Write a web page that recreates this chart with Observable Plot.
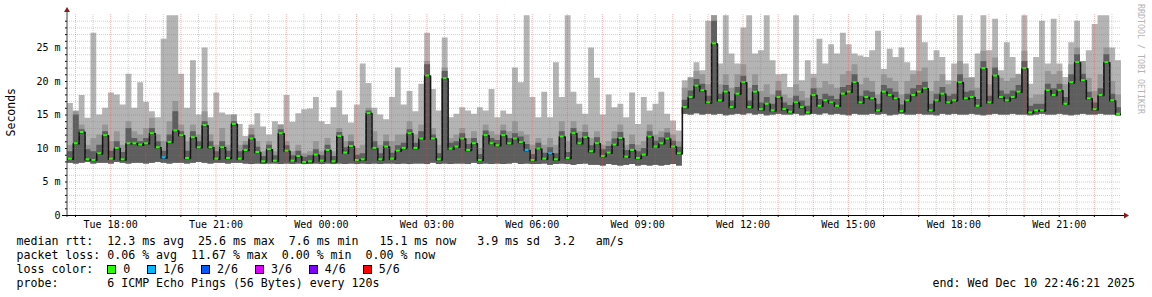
<!DOCTYPE html>
<html><head><meta charset="utf-8">
<script src="https://cdn.jsdelivr.net/npm/d3@7"></script>
<script src="https://cdn.jsdelivr.net/npm/@observablehq/plot@0.6"></script>
<style>
body{margin:0;background:#fff;}
#wrap{position:relative;width:1152px;height:297px;overflow:hidden;background:#fff;font-family:"DejaVu Sans Mono",monospace;}
#chart{position:absolute;left:0;top:0;}
#ylab{position:absolute;left:4px;top:88px;writing-mode:vertical-rl;transform:rotate(180deg);font-size:11.5px;color:#000;}
#credit{position:absolute;left:1136px;top:4px;writing-mode:vertical-rl;font-size:8.3px;color:#b4b4b4;}
.leg{position:absolute;left:16.5px;font-size:11.6px;white-space:pre;color:#000;line-height:14px;}
.box{display:inline-block;width:7px;height:7px;border:1px solid #000;vertical-align:-1px;}
#end{position:absolute;right:17px;top:276px;font-size:11.6px;white-space:pre;line-height:14px;}
</style></head><body>
<div id="wrap">
<div id="chart"></div>
<div id="ylab">Seconds</div>
<div id="credit">RRDTOOL / TOBI OETIKER</div>
<div class="leg" id="l1" style="top:234px"></div>
<div class="leg" id="l2" style="top:248px"></div>
<div class="leg" id="l3" style="top:262px"></div>
<div class="leg" id="l4" style="top:276px"></div>
<div id="end"></div>
</div>
<script>
// time: hours since Tue 00:00; one sample every 10 minutes
const startHour = 16 + 46/60 + 21/3600;
const stepHours = 1/6;

const loPing = [
7.8,7.7,7.8,7.9,7.7,7.8,7.8,7.7,7.9,7.8, 7.7,7.8,7.8,7.7,7.8,7.9,7.8,7.7,7.8,7.8, 7.7,7.8,7.9,7.8,7.7,7.8,7.8,7.7,7.8,7.8,
7.7,7.6,7.7,7.6,7.7,7.7,7.6,7.7,7.6,7.7, 7.6,7.6,7.7,7.6,7.7,7.6,7.7,7.6,7.7,7.6, 7.7,7.6,7.7,7.6,7.7,7.7,7.6,7.7,7.6,7.7,
7.7,7.6,7.8,7.6,7.7,7.6,7.7,7.7,7.6,7.8, 7.6,7.7,7.6,7.7,7.6,7.7,7.8,7.6,7.7,7.6, 7.6,7.7,7.5,7.6,7.7,7.6,7.5,7.6,7.7,7.5,
7.5,7.4,7.6,7.5,7.4,7.5,7.6,7.4,7.5,7.4, 7.5,7.4,7.5,7.6,7.4,15.1,15.0,15.2,15.0,15.1, 15.0,15.1,14.9,15.0,15.1,15.0,15.2,15.0,15.1,14.9,
15.0,15.1,15.0,15.0,15.1,14.9,15.0,15.1,15.0,15.2, 15.0,15.1,15.0,14.9,15.1,15.0,15.0,15.1,15.0,15.1, 14.9,15.0,15.1,15.0,15.0,15.1,15.0,15.0,14.9,15.1,
15.0,15.1,15.0,15.0,15.1,15.0,14.9,15.0,15.1,15.0, 15.0,15.1,15.0,15.0,14.9,15.0,15.1,15.0,15.0,15.1, 15.0,14.9,15.0,15.1,15.0,15.0,15.1,15.0,15.0,14.9
];
const medPing = [
8.4,10.7,12.4,8.3,8.2,9.2,11.9,8.4,10.0,8.3, 10.7,10.7,10.5,10.7,12.2,10.1,8.6,10.9,12.6,11.9, 8.5,11.6,10.1,13.4,10.1,8.4,10.1,8.5,13.6,8.4,
9.7,11.4,9.4,8.0,9.8,8.1,12.2,9.6,8.1,8.8, 7.9,8.0,9.0,8.1,9.7,8.0,11.8,9.3,10.3,8.2, 8.3,15.2,10.0,8.3,10.2,8.4,9.6,10.0,12.2,10.0,
11.4,20.8,11.4,8.3,20.4,9.9,10.2,11.4,9.7,10.7, 8.2,11.9,10.7,10.4,11.9,10.7,11.4,10.9,9.7,8.2, 9.9,8.4,9.2,8.3,11.7,8.5,12.2,10.7,11.6,9.5,
10.7,8.8,9.3,10.5,11.5,8.7,9.7,8.5,9.0,11.7, 10.2,10.7,11.4,10.2,9.2,16.1,17.6,19.3,18.6,16.8, 25.6,17.1,18.4,16.1,18.1,19.8,16.1,18.4,15.8,16.6,
15.6,17.6,15.8,15.4,16.8,16.1,15.3,17.9,16.3,17.1, 16.8,16.3,18.1,18.4,19.8,16.8,17.6,17.4,15.6,18.4, 17.9,17.4,15.5,17.1,17.9,18.4,18.9,15.6,17.1,18.1,
16.8,17.1,19.8,17.4,17.6,16.3,21.9,16.8,20.8,17.6, 17.1,17.6,18.4,21.9,15.3,15.6,15.6,18.6,17.9,18.6, 16.6,19.8,22.8,20.1,17.4,15.8,17.9,22.8,17.1,15.1
];
// upper edge of the darkest smoke layer
const q3Ping = [
9.5,15,12.8,9.8,9.5,10.5,12.5,9.6,11,9.4, 13,11.5,11,11.5,13,11,9.6,12,15.5,12.5, 9.6,12.5,11,14,11,9.5,11,9.6,14,9.5,
10.5,12,10.2,8.8,10.5,8.9,12.8,10.4,8.9,9.6, 8.7,8.9,9.8,8.9,10.5,8.8,12.4,10.1,11,9, 9.2,15.6,11,9.2,11,9.3,10.4,10.8,12.8,10.8,
12.5,22.5,12,9.2,21.5,10.8,11,12.2,10.6,11.5, 9.1,12.6,11.5,11.2,12.6,11.5,12.2,11.7,10.6,9.1, 10.8,9.3,10.1,9.2,12.5,9.4,13,11.5,12.4,10.4,
11.6,9.8,10.3,11.4,12.4,9.7,10.6,9.5,10,12.5, 11.1,11.6,12.3,11.1,10.2,17.2,18.6,20.3,19.6,17.8, 29,18.1,19.4,17.1,19.1,20.8,17.1,19.4,16.8,17.6,
16.6,18.6,16.8,16.4,17.8,17.1,16.3,18.9,17.3,18.1, 17.8,17.3,19.1,19.4,21,17.8,18.6,18.4,16.6,19.4, 18.9,18.4,16.5,18.1,18.9,19.4,19.9,16.6,18.1,19.1,
17.8,18.1,21,18.4,18.6,17.3,23,17.8,22,18.6, 18.1,18.6,19.4,23,16.3,16.6,16.6,19.6,18.9,19.6, 17.6,21,24,21.1,18.4,16.8,18.9,24,18.1,16.1
];
// upper edge of the middle smoke layer
const q4Ping = [
10.5,15.5,13.5,10.5,11.5,12,13.5,11,12.5,10.5, 14,12.5,12,13,14.5,12,11,14,17,13.5, 11,13.5,12,15.5,12,10.5,13,10.5,15,10.5,
11,13,11,9.5,11,9.5,13.5,11,9.5,10.5, 9.2,9.5,11,9.5,11.5,9.5,13,11,12,10, 10.5,16,12.5,10.5,12,11,12,12,14,12,
13.5,23,13,10.5,22,11.5,12,13,11.5,12.5, 10,13.5,12.5,12,13.5,12.5,14,12.5,12,10.5, 11.5,10.5,11.5,10.5,14,11,14,12.5,13.5,11.5,
12.5,10.5,11,12.5,13.5,10.5,12,10.5,11,13.5, 12,12.5,13,12,11,19,20.5,21.5,21,19.5, 29.8,19.5,21,19,21,22.5,19,21,18.5,19.5,
18,20,18,17.5,19.5,18.5,17.5,20.5,19,20, 19.5,19,21,21.5,22.5,19.5,20.5,20,18,21, 20.5,20,18,20,21,21.5,22,18.5,20,21,
19.5,20,23,20.5,20.5,19,24.5,19.5,23.5,20.5, 20,20.5,21,24.5,17.5,18,18,21.5,21,21.5, 19.5,22.5,25,23,20.5,18.5,21,25,20,18
];
const hiPing = [
16.7,15.6,17.9,14.5,27.2,15,16,18.3,18,16.5, 21.1,16,19.8,16.9,15.5,14.6,26.3,29.8,29.8,21.1, 16,23.1,15,25,14.6,18.3,15.3,15,15,13.6,
11.8,13.5,15.2,13.2,12,14,13.5,17.9,13.9,15.2, 15.8,15.9,17.6,14,13.6,16.1,18.6,15,13.8,16.5, 22.6,19.7,16,15,14.3,17.6,22,16.5,18.5,15.5,
19.6,27.2,18.8,15.6,26.5,14.6,15.1,16.1,15.6,15.1, 16.1,15.6,18.8,14.6,15.6,15.1,22,19.8,29.8,17.6, 14.6,18.4,14.6,22.8,17.6,29.8,18.4,16.6,15.1,25,
20.5,15,18,16.1,16.6,14.6,18.3,13.6,17.6,15.6, 16.6,18.4,15.1,14.1,12.6,20.1,20.6,22.8,21.6,29, 29.8,22.6,29.8,24.1,22.6,28,29.8,24.1,24.6,29.8,
23.1,21,21.1,19.1,29.8,20.1,23.1,21.1,26.3,22.6, 25.5,24.1,27.2,25.5,24.1,23.8,23.6,24.6,27.5,21.8, 24.8,23.6,25,22.8,21.6,29.8,25.8,23.1,24.6,23.6,
20.1,22.6,29.8,22.6,20.6,24.1,29.8,24.6,29.3,21.6, 25.8,23.6,21.1,29.8,19.6,23.6,29,22.6,29.3,22.6, 20.6,25.8,29,22.6,24.6,28.5,29.8,29.8,25,23.1
];
// sample indices where 1 of 6 pings was lost
const lossOneOfSix = [16, 78, 82];

const xTickHours = [18, 21, 24, 27, 30, 33, 36, 39, 42, 45];
const xTickLabels = ["Tue 18:00","Tue 21:00","Wed 00:00","Wed 03:00","Wed 06:00","Wed 09:00","Wed 12:00","Wed 15:00","Wed 18:00","Wed 21:00"];
const yTickValues = [0, 5, 10, 15, 20, 25];
const yTickLabels = ["0","5 m","10 m","15 m","20 m","25 m"];

const lossLabels = ["0","1/6","2/6","3/6","4/6","5/6"];
const lossColors = ["#26ff00","#00b8ff","#0059ff","#dd00ff","#7e00ff","#ff0000"];
const legendLines = [
  "median rtt:  12.3 ms avg  25.6 ms max  7.6 ms min   15.1 ms now   3.9 ms sd  3.2   am/s",
  "packet loss: 0.06 % avg  11.67 % max  0.00 % min  0.00 % now",
  "loss color:  ",
  "probe:       6 ICMP Echo Pings (56 Bytes) every 120s"
];
const endText = "end: Wed Dec 10 22:46:21 2025";

const endHour = startHour + medPing.length * stepHours;
const rows = medPing.map((m, i) => ({
  t: startHour + i * stepHours, lo: loPing[i], q3: q3Ping[i], q4: q4Ping[i], hi: hiPing[i], med: m,
  loss: lossOneOfSix.includes(i) ? 1 : 0
}));
const last = rows[rows.length - 1];
const stepRows = rows.concat([{...last, t: endHour}]);

const minorY = d3.range(1, 30).filter(v => v % 5 !== 0);
const majorY = [5, 10, 15, 20, 25];
const halfHours = d3.range(17.5, endHour, 1);
const hours = d3.range(17, endHour, 1);

const chart = Plot.plot({
  width: 1152, height: 232,
  marginLeft: 67, marginRight: 31, marginTop: 14, marginBottom: 17,
  style: {fontFamily: "DejaVu Sans Mono, monospace", fontSize: "10px", color: "#000", background: "transparent"},
  x: {type: "linear", domain: [startHour, endHour]},
  y: {domain: [0, 30]},
  marks: [
    Plot.areaY(stepRows, {x: "t", y1: "lo", y2: "hi", curve: "step-after", fill: "#b4b4b4", clip: true}),
    Plot.areaY(stepRows, {x: "t", y1: "lo", y2: "q4", curve: "step-after", fill: "#979797", clip: true}),
    Plot.areaY(stepRows, {x: "t", y1: "lo", y2: "q3", curve: "step-after", fill: "#5e5e5e", clip: true}),
    Plot.line(stepRows, {x: "t", y: "med", curve: "step-after", stroke: "#151515", strokeWidth: 1.6, clip: true}),
    Plot.rect(rows, {x1: "t", x2: d => d.t + stepHours, y1: d => d.med - 0.16, y2: d => d.med + 0.16,
      insetLeft: 1, insetRight: 1, fill: d => d.loss ? lossColors[1] : lossColors[0]}),
    Plot.ruleY(minorY, {stroke: "rgba(120,120,120,0.35)", strokeDasharray: "1,1"}),
    Plot.ruleX(halfHours, {stroke: "rgba(120,120,120,0.35)", strokeDasharray: "1,1"}),
    Plot.ruleY(majorY, {stroke: "rgba(220,80,80,0.4)", strokeDasharray: "1,1"}),
    Plot.ruleX(hours, {stroke: "rgba(220,80,80,0.4)", strokeDasharray: "1,1"}),
    Plot.axisX(xTickHours, {tickSize: 0, tickPadding: 5, tickFormat: d => xTickLabels[xTickHours.indexOf(d)], label: null}),
    Plot.axisX(hours, {tickSize: 2, tickFormat: () => "", label: null}),
    Plot.axisY(yTickValues, {tickSize: 0, tickPadding: 7, tickFormat: d => yTickLabels[yTickValues.indexOf(d)], label: null}),
    Plot.axisY(d3.range(0, 30), {tickSize: 2, tickFormat: () => "", label: null})
  ]
});
document.getElementById("chart").appendChild(chart);

// axis lines and arrowheads
const svg = d3.select(chart);
const x0 = 67, y0 = 215;
svg.append("line").attr("x1", x0).attr("x2", x0).attr("y1", y0 + 2).attr("y2", 11).attr("stroke", "#404040").attr("stroke-width", 1);
svg.append("line").attr("x1", 62).attr("x2", 1124).attr("y1", y0 + 0.5).attr("y2", y0 + 0.5).attr("stroke", "#000").attr("stroke-width", 1);
svg.append("path").attr("d", `M${x0 - 3},${12} L${x0 + 3},${12} L${x0},${7} Z`).attr("fill", "#8b1a1a");
svg.append("path").attr("d", `M1124,${y0 - 2.5} L1124,${y0 + 3.5} L1129,${y0 + 0.5} Z`).attr("fill", "#8b1a1a");

// legend text
document.getElementById("l1").textContent = legendLines[0];
document.getElementById("l2").textContent = legendLines[1];
const l3 = document.getElementById("l3");
l3.textContent = legendLines[2];
lossLabels.forEach((lab, i) => {
  const b = document.createElement("span");
  b.className = "box";
  b.style.background = lossColors[i];
  if (i > 0) b.style.marginLeft = "3px";
  l3.appendChild(b);
  l3.appendChild(document.createTextNode(" " + lab + (i < lossLabels.length - 1 ? "  " : "")));
});
document.getElementById("l4").textContent = legendLines[3];
document.getElementById("end").textContent = endText;
</script>
</body></html>
